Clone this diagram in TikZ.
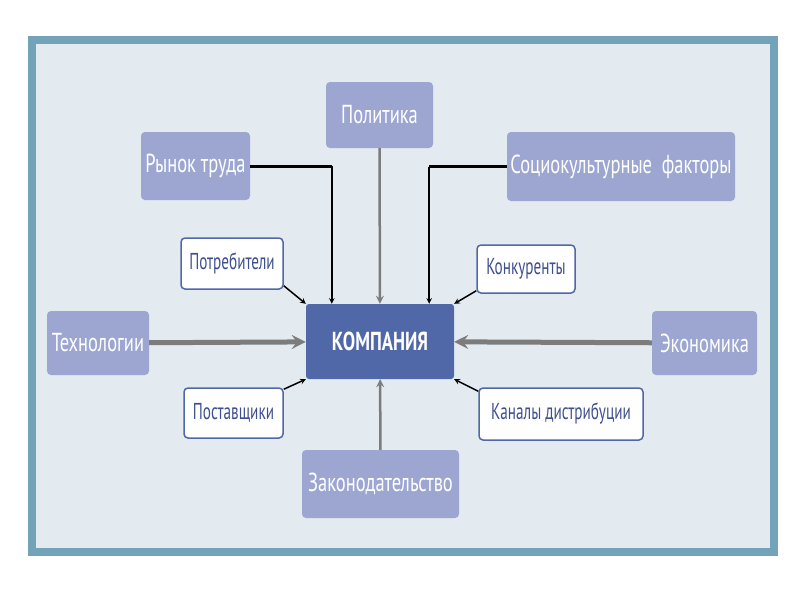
\documentclass[tikz,border=0pt]{standalone}
\usepackage{fontspec}
\setmainfont[FakeStretch=0.71]{PT Sans}
\newfontfamily\uzkij[FakeStretch=0.66]{PT Sans}
\definecolor{ramka}{HTML}{72A3B9}
\definecolor{fon}{HTML}{E3EAF0}
\definecolor{lila}{HTML}{9CA6D1}
\definecolor{sinij}{HTML}{5068A8}
\definecolor{tekst}{HTML}{3E4F8E}
\definecolor{seryj}{HTML}{7C7C7C}
\tikzset{
  faktor/.style={fill=lila,rounded corners=4,text=white,font=\fontsize{26}{28}\selectfont,inner sep=0pt},
  rynok/.style={draw=sinij,line width=1.5,fill=white,rounded corners=4,text=tekst,font=\uzkij\fontsize{23}{25}\selectfont,inner sep=0pt},
  centr/.style={fill=sinij,rounded corners=3,text=white,font=\bfseries\fontsize{26}{28}\selectfont,inner sep=0pt},
  tonk/.style={->,line width=1.5},
  tolst/.style={->,line width=5,draw=seryj},
  sred/.style={->,line width=2.5,draw=seryj}
}
\begin{document}
\begin{tikzpicture}[>=stealth,x=1pt,y=-1pt]
	\useasboundingbox[fill=white] (0,0) rectangle (800,600);
	\draw[line width=8,draw=ramka,fill=fon] (32,40) rectangle (774,552);
	\draw[line width=3,draw=ramka] (28,37) -- (778,37);
	% внешние факторы
	\node[faktor,minimum width=107,minimum height=66] (polit) at (379.5,115) {Политика};
	\node[faktor,minimum width=109,minimum height=68] (trud) at (195.5,166) {Рынок труда};
	\node[faktor,minimum width=228,minimum height=69] (socio) at (621,166.5) {Социокультурные\ \ факторы};
	\node[faktor,minimum width=102,minimum height=64] (tehn) at (98,343) {Технологии};
	\node[faktor,minimum width=105,minimum height=64] (ekon) at (704.5,343) {Экономика};
	\node[faktor,minimum width=157,minimum height=68] (zakon) at (380.5,484) {Законодательство};
	% рыночное окружение
	\node[rynok,minimum width=102,minimum height=51] (potr) at (232,263.5) {Потребители};
	\node[rynok,minimum width=98,minimum height=48] (konk) at (526,269) {Конкуренты};
	\node[rynok,minimum width=99,minimum height=50] (post) at (233.5,413) {Поставщики};
	\node[rynok,minimum width=164,minimum height=52] (kanal) at (561,414) {Каналы дистрибуции};
	\node[centr,minimum width=148,minimum height=75] (komp) at (380,341.5) {КОМПАНИЯ};
	\coordinate (kl) at ([xshift=26]komp.north west);
	\coordinate (kr) at ([xshift=-25]komp.north east);
	\draw[line width=3] (trud.east) -- (trud.east -| kl);
	\draw[tonk] (trud.east -| kl) -- (kl);
	\draw[line width=3] (socio.west) -- (socio.west -| kr);
	\draw[tonk] (socio.west -| kr) -- (kr);
	\draw[sred] (polit) -- (komp);
	\draw[sred] (zakon) -- (komp);
	\draw[tolst] (tehn) -- (komp);
	\draw[tolst] (ekon) -- (komp);
	\draw[tonk] ([yshift=4]potr.south east) -- (komp.north west);
	\draw[tonk] ([yshift=3]konk.south west) -- (komp.north east);
	\draw[tonk] ([yshift=-2]post.north east) -- (komp.south west);
	\draw[tonk] ([yshift=-4]kanal.north west) -- (komp.south east);
\end{tikzpicture}
\end{document}
